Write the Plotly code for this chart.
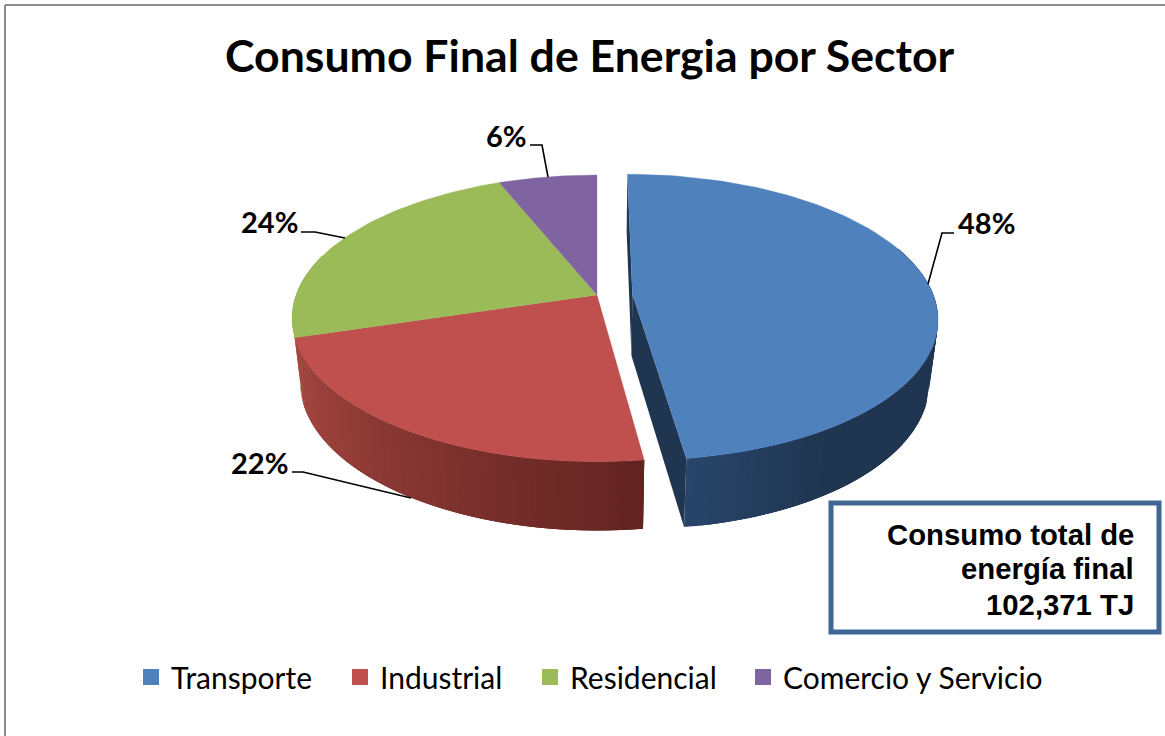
import math
import plotly.graph_objects as go

# ---- data ----
sectors = ["Transporte", "Industrial", "Residencial", "Comercio y Servicio"]
shares = [47.9, 22.4, 23.6, 6.1]
top_colors = ["#4f81bd", "#c0504d", "#9bbb59", "#8064a2"]
title_text = "Consumo Final de Energia por Sector"
box_lines = ["Consumo total de", "energía final", "102,371 TJ"]

# ---- pie projection (pixel-like axis units) ----
CX, CY, A, B, K = 597, 295, 301, 139.6, 0.163
BOTTOM_SHIFT, BOTTOM_SX, BOTTOM_SY = 62, 0.974, 1.04
EXPLODE = 0.118
WALL_COLOR_BLUE = ((0x28, 0x45, 0x6a), (0x1f, 0x35, 0x50))
WALL_COLOR_RED = ((0xa8, 0x48, 0x42), (0x62, 0x23, 0x21))
WALL_COLOR_GREEN = ((0x8a, 0xa8, 0x4e), (0x8a, 0xa8, 0x4e))


def project(theta, r=1.0, dx=0.0, dy=0.0, bottom=False):
    u = r * math.sin(theta) + dx
    v = r * math.cos(theta) + dy
    w = 1 + K * v
    sx = BOTTOM_SX if bottom else 1
    sy = BOTTOM_SY if bottom else 1
    shift = BOTTOM_SHIFT if bottom else 0
    return CX + A * sx * u / w, CY + shift - B * sy * v / w


def rgb(c):
    return "rgb(%d,%d,%d)" % tuple(round(x) for x in c)


def mix(pair, t):
    t = max(0, min(1, t))
    return [a + (b - a) * t for a, b in zip(*pair)]


def poly(fig, pts, color, line=0.0):
    fig.add_trace(go.Scatter(
        x=[p[0] for p in pts] + [pts[0][0]], y=[p[1] for p in pts] + [pts[0][1]],
        mode="lines", fill="toself", fillcolor=color,
        line=dict(color=color, width=line), showlegend=False, hoverinfo="skip"))


fig = go.Figure()

# slice angles from the shares, clockwise from 12 o'clock
total = sum(shares)
edges = [0]
for s in shares:
    edges.append(edges[-1] + s / total * 2 * math.pi)
mid0 = (edges[0] + edges[1]) / 2
ex_dx, ex_dy = EXPLODE * math.sin(mid0), EXPLODE * math.cos(mid0)


def wall(theta_a, theta_b, pair, dx=0.0, dy=0.0, n=48, gradient=None):
    # each strip runs on under the next one, so no seams show between them
    for i in range(n):
        t = gradient((i + 0.5) / n)
        m = 10
        end = min(i + 3, n)
        arc = [theta_a + (theta_b - theta_a) * (i + (end - i) * j / m) / n for j in range(m + 1)]
        pts = [project(x, 1, dx, dy) for x in arc] + [project(x, 1, dx, dy, True) for x in reversed(arc)]
        poly(fig, pts, rgb(mix(pair, t)))


# rear pieces: green sliver and red wall
wall(edges[2], edges[2] + math.radians(34), WALL_COLOR_GREEN, n=4, gradient=lambda f: 0)
wall(edges[2], edges[1], WALL_COLOR_RED, n=70, gradient=lambda f: f)

# top faces of non-exploded slices
for i in (1, 2, 3):
    n = 70
    arc = [project(edges[i] + (edges[i + 1] - edges[i]) * j / n) for j in range(n + 1)]
    poly(fig, [(CX, CY)] + arc, top_colors[i], line=0.3)

# exploded slice: inner walls, outer wall, top
apex_t = project(0, 0, ex_dx, ex_dy)
apex_b = project(0, 0, ex_dx, ex_dy, True)
poly(fig, [apex_t, project(edges[0], 1, ex_dx, ex_dy), project(edges[0], 1, ex_dx, ex_dy, True), apex_b], "#1f3550")
poly(fig, [apex_t, project(edges[1], 1, ex_dx, ex_dy), project(edges[1], 1, ex_dx, ex_dy, True), apex_b], "#1f3550")
wall(edges[1], math.radians(70), WALL_COLOR_BLUE, ex_dx, ex_dy, n=70, gradient=lambda f: f * 4)
n = 90
arc = [project(edges[0] + (edges[1] - edges[0]) * j / n, 1, ex_dx, ex_dy) for j in range(n + 1)]
poly(fig, [apex_t] + arc, top_colors[0], line=0.3)

# leader lines and percent labels
leaders = [
    [(928, 284), (942, 233), (954, 233)],
    [(411, 498), (303, 472), (292, 472)],
    [(345, 238), (315, 232), (301, 232)],
    [(548, 177), (542, 145), (530, 145)],
]
label_pos = [(986, 222), (259, 462), (269, 221), (506, 135)]
for pts in leaders:
    fig.add_trace(go.Scatter(x=[p[0] for p in pts], y=[p[1] for p in pts], mode="lines",
                             line=dict(color="#000000", width=1.6), showlegend=False, hoverinfo="skip"))
for s, (x, y) in zip(shares, label_pos):
    fig.add_annotation(x=x, y=y, text=f"<b>{round(s)}%</b>", showarrow=False,
                       font=dict(family="Lato", size=29, color="#000000"))

# legend entries, one positioned legend per sector
legend_x = [131, 340, 530, 743]
legend_names = ["legend", "legend2", "legend3", "legend4"]
legend_layout = {}
for name, color, key, lx in zip(sectors, top_colors, legend_names, legend_x):
    fig.add_trace(go.Scatter(x=[None], y=[None], mode="markers", name=name, legend=key,
                             marker=dict(symbol="square", size=18, color=color)))
    legend_layout[key] = dict(orientation="h", x=lx / 1165, y=1 - 677 / 736, xanchor="left", yanchor="middle",
                              font=dict(family="Lato", size=30, color="#000000"),
                              bgcolor="rgba(0,0,0,0)", itemwidth=30)

# title and box
fig.add_annotation(x=590, y=54.5, text=f"<b>{title_text}</b>", showarrow=False,
                   font=dict(family="Lato", size=44.6, color="#000000"))
fig.add_shape(type="rect", x0=831, y0=503, x1=1159, y1=632, xref="x", yref="y",
              line=dict(color="#3f6694", width=5), fillcolor="#ffffff", layer="above")
for line, y in zip(box_lines, [534, 568, 604]):
    fig.add_annotation(x=1136, y=y, text=f"<b>{line}</b>", showarrow=False, xanchor="right", align="right",
                       font=dict(family="Liberation Sans", size=29.3, color="#000000"))

# outer frame
fig.add_shape(type="line", x0=5, y0=5, x1=1165, y1=5, line=dict(color="#8c8c8c", width=2))
fig.add_shape(type="line", x0=5, y0=5, x1=5, y1=736, line=dict(color="#8c8c8c", width=2))

fig.update_layout(
    width=1165, height=736, margin=dict(l=0, r=0, t=0, b=0),
    paper_bgcolor="#ffffff", plot_bgcolor="#ffffff",
    xaxis=dict(range=[0, 1165], visible=False, fixedrange=True),
    yaxis=dict(range=[736, 0], visible=False, fixedrange=True),
    showlegend=True,
    **legend_layout,
)
fig.write_html("out.html", config={"displayModeBar": False},
               post_script="document.body.style.margin='0';document.body.style.overflow='hidden';")
